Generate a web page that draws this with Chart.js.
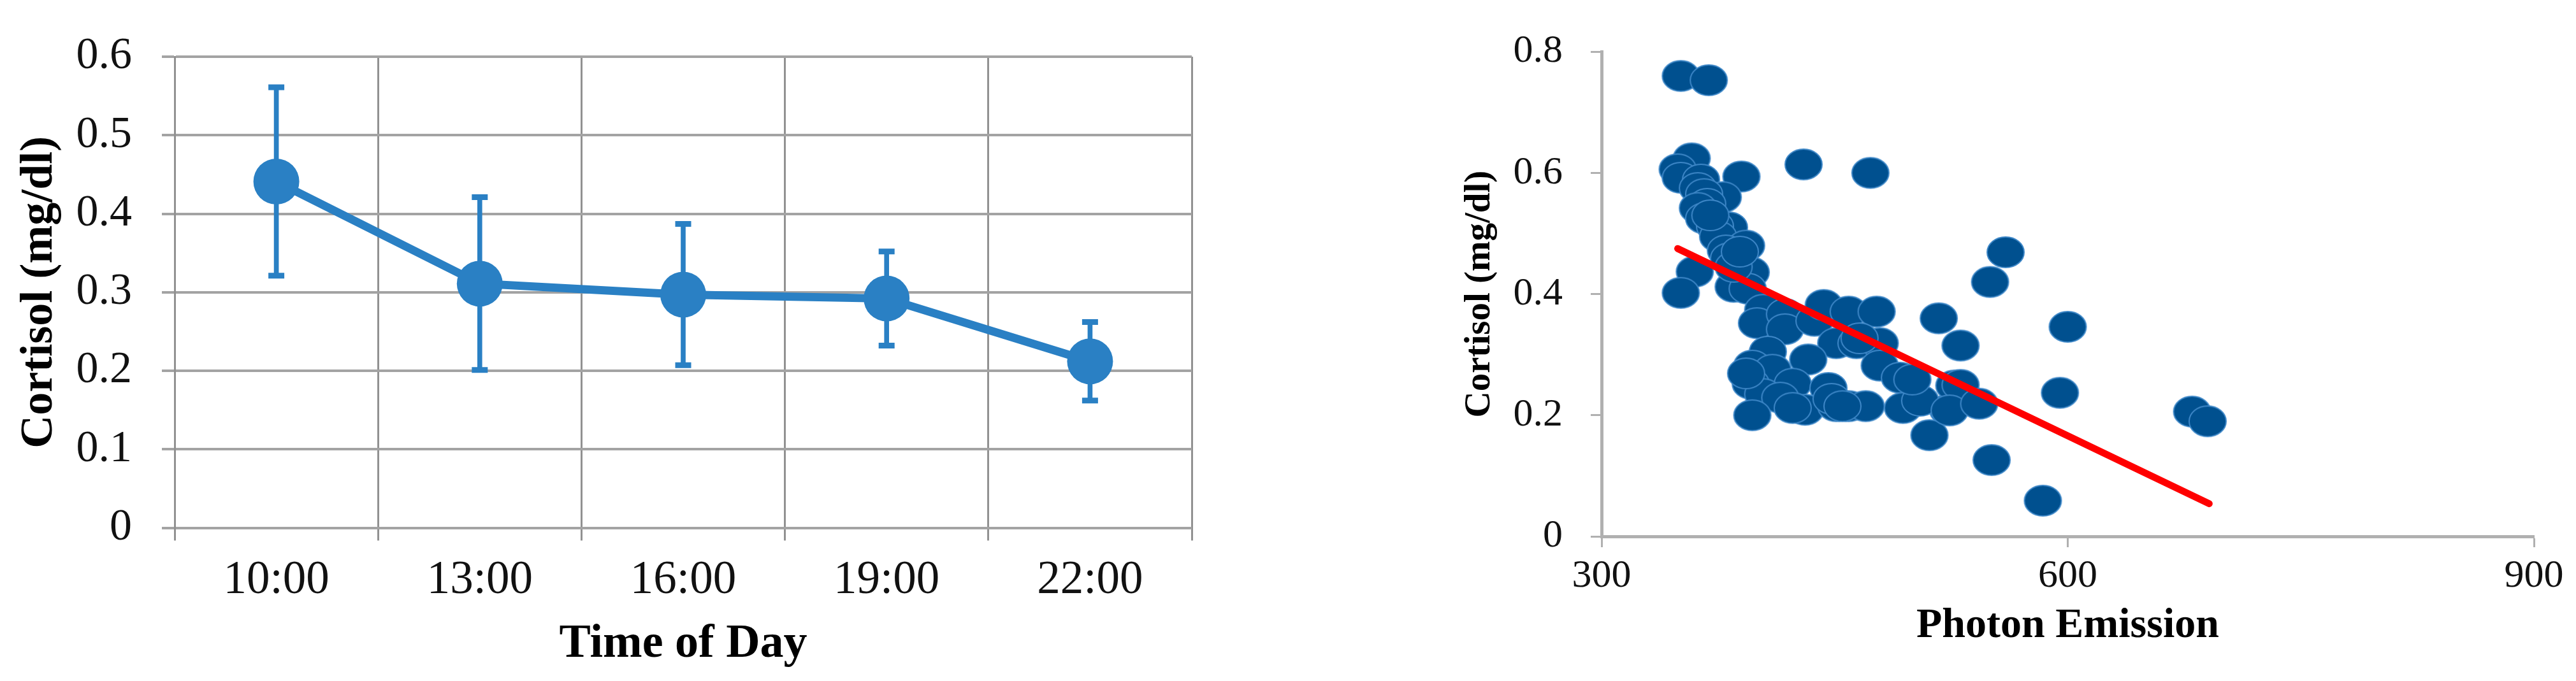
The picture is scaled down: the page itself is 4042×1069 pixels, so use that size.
<!DOCTYPE html>
<html>
<head>
<meta charset="utf-8">
<script src="https://cdn.jsdelivr.net/npm/chart.js@4.4.1/dist/chart.umd.min.js"></script>
<style>
  html, body { margin: 0; padding: 0; background: #fff; }
  body { width: 4042px; height: 1069px; position: relative; overflow: hidden; }
  canvas { position: absolute; top: 0; }
  #timeChart { left: 0; }
  #photonChart { left: 2100px; }
</style>
</head>
<body>
<canvas id="timeChart" width="1960" height="1069"></canvas>
<canvas id="photonChart" width="1942" height="1069"></canvas>
<script>
// left panel: cortisol over the day (mean +/- error)
const timeLabels = ['10:00', '13:00', '16:00', '19:00', '22:00'];
const cortisolMeans = [0.441, 0.311, 0.297, 0.292, 0.212];
const cortisolErrors = [0.12, 0.11, 0.09, 0.06, 0.05];

// right panel: photon emission vs cortisol
const photonEmission = [
  351, 369, 358, 349, 351, 390, 430, 473, 364, 362,
  378, 366, 368, 362, 366, 382, 373, 375, 393, 380,
  382, 396, 360, 351, 385, 394, 404, 400, 418, 418,
  437, 443, 459, 477, 451, 464, 479, 479, 492, 517,
  407, 433, 397, 410, 423, 446, 396, 404, 415, 431,
  423, 451, 459, 470, 504, 494, 523, 397, 511, 527,
  560, 550, 600, 531, 531, 505, 524, 543, 595, 551,
  584, 680, 690, 393, 466, 448, 455, 385, 370, 389,
  500
];
const photonCortisol = [
  0.760, 0.753, 0.624, 0.606, 0.592, 0.594, 0.614, 0.600, 0.589, 0.575,
  0.560, 0.565, 0.549, 0.542, 0.525, 0.510, 0.512, 0.495, 0.480, 0.472,
  0.459, 0.436, 0.437, 0.402, 0.412, 0.409, 0.374, 0.352, 0.367, 0.342,
  0.356, 0.382, 0.371, 0.371, 0.319, 0.319, 0.319, 0.282, 0.262, 0.360,
  0.305, 0.292, 0.282, 0.275, 0.252, 0.245, 0.252, 0.235, 0.229, 0.209,
  0.212, 0.215, 0.215, 0.215, 0.225, 0.212, 0.209, 0.200, 0.167, 0.249,
  0.469, 0.420, 0.346, 0.315, 0.250, 0.224, 0.208, 0.219, 0.237, 0.126,
  0.059, 0.206, 0.190, 0.269, 0.327, 0.227, 0.215, 0.445, 0.530, 0.470,
  0.259
];
const trendX = [349, 691];
const trendY = [0.475, 0.054];

const blue = '#2a80c4';
const navy = '#00508f';
const serif = '"Liberation Serif", "Times New Roman", serif';

Chart.defaults.font.family = serif;

const errHigh = cortisolMeans.map((m, i) => m + cortisolErrors[i]);
const errLow = cortisolMeans.map((m, i) => m - cortisolErrors[i]);

// slightly flattened dot like the original scatter markers
function ellipseDot(w, h, fill, stroke) {
  const c = document.createElement('canvas');
  c.width = w + 4;
  c.height = h + 4;
  const g = c.getContext('2d');
  g.beginPath();
  g.ellipse(c.width / 2, c.height / 2, w / 2, h / 2, 0, 0, Math.PI * 2);
  g.fillStyle = fill;
  g.fill();
  g.lineWidth = 2;
  g.strokeStyle = stroke;
  g.stroke();
  return c;
}

const capSet = (data) => ({
  type: 'line',
  data,
  showLine: false,
  pointStyle: 'line',
  pointRadius: 12.5,
  pointBorderWidth: 9,
  pointBorderColor: blue,
  borderColor: blue,
  order: 1
});

new Chart(document.getElementById('timeChart'), {
  type: 'line',
  data: {
    labels: timeLabels,
    datasets: [
      {
        type: 'line',
        data: cortisolMeans,
        borderColor: blue,
        backgroundColor: blue,
        borderWidth: 13,
        pointRadius: 36,
        pointHoverRadius: 36,
        pointBackgroundColor: blue,
        pointBorderWidth: 0,
        order: 0
      },
      {
        type: 'bar',
        data: errLow.map((v, i) => [v, errHigh[i]]),
        backgroundColor: blue,
        barThickness: 7,
        order: 2
      },
      capSet(errHigh),
      capSet(errLow)
    ]
  },
  options: {
    responsive: false,
    animation: false,
    layout: { padding: { left: 0, top: 88, right: 90, bottom: 0 } },
    plugins: { legend: { display: false }, tooltip: { enabled: false } },
    scales: {
      x: {
        offset: true,
        grid: { offset: true, color: '#919191', lineWidth: 3, tickLength: 20 },
        border: { display: false },
        ticks: { font: { size: 73 }, color: '#111', padding: 20 },
        title: {
          display: true,
          text: 'Time of Day',
          color: '#000',
          font: { size: 74, weight: 'bold' },
          padding: { top: 0, bottom: 13 }
        },
        afterFit: (s) => { s.height = 240.5; }
      },
      y: {
        min: 0,
        max: 0.6,
        ticks: { stepSize: 0.1, font: { size: 70 }, color: '#111', padding: 47 },
        grid: { color: '#a3a3a3', lineWidth: 4, tickLength: 20 },
        border: { color: '#919191', width: 3 },
        title: {
          display: true,
          text: 'Cortisol (mg/dl)',
          color: '#000',
          font: { size: 72, weight: 'bold' },
          padding: { top: 19, bottom: 0 }
        },
        afterFit: (s) => { s.width = 274; }
      }
    }
  }
});

const axisGray = '#b0b0b0';

new Chart(document.getElementById('photonChart'), {
  type: 'scatter',
  data: {
    datasets: [
      {
        type: 'line',
        data: trendX.map((x, i) => ({ x, y: trendY[i] })),
        borderColor: '#ff0000',
        borderWidth: 11,
        borderCapStyle: 'round',
        pointRadius: 0,
        order: 0
      },
      {
        data: photonEmission.map((x, i) => ({ x, y: photonCortisol[i] })),
        pointStyle: ellipseDot(58, 48, navy, '#3f88c8'),
        pointRadius: 29,
        order: 1
      }
    ]
  },
  options: {
    responsive: false,
    animation: false,
    layout: { padding: { left: 0, top: 42, right: 66, bottom: 0 } },
    plugins: { legend: { display: false }, tooltip: { enabled: false } },
    scales: {
      x: {
        type: 'linear',
        min: 300,
        max: 900,
        ticks: { stepSize: 300, font: { size: 62 }, color: '#111', padding: 9 },
        grid: { drawOnChartArea: false, tickLength: 17, tickWidth: 3, tickColor: axisGray },
        border: { color: axisGray, width: 5 },
        title: {
          display: true,
          text: 'Photon Emission',
          color: '#000',
          font: { size: 66, weight: 'bold' },
          padding: { top: 0, bottom: 46 }
        },
        afterFit: (s) => { s.height = 227; }
      },
      y: {
        min: 0,
        max: 0.8,
        ticks: { stepSize: 0.2, font: { size: 62 }, color: '#111', padding: 44 },
        grid: { drawOnChartArea: false, tickLength: 17, tickWidth: 3, tickColor: axisGray },
        border: { color: axisGray, width: 5 },
        title: {
          display: true,
          text: 'Cortisol (mg/dl)',
          color: '#000',
          font: { size: 57, weight: 'bold' },
          padding: { top: 188, bottom: 0 }
        },
        afterFit: (s) => { s.width = 413; }
      }
    }
  }
});
</script>
</body>
</html>
